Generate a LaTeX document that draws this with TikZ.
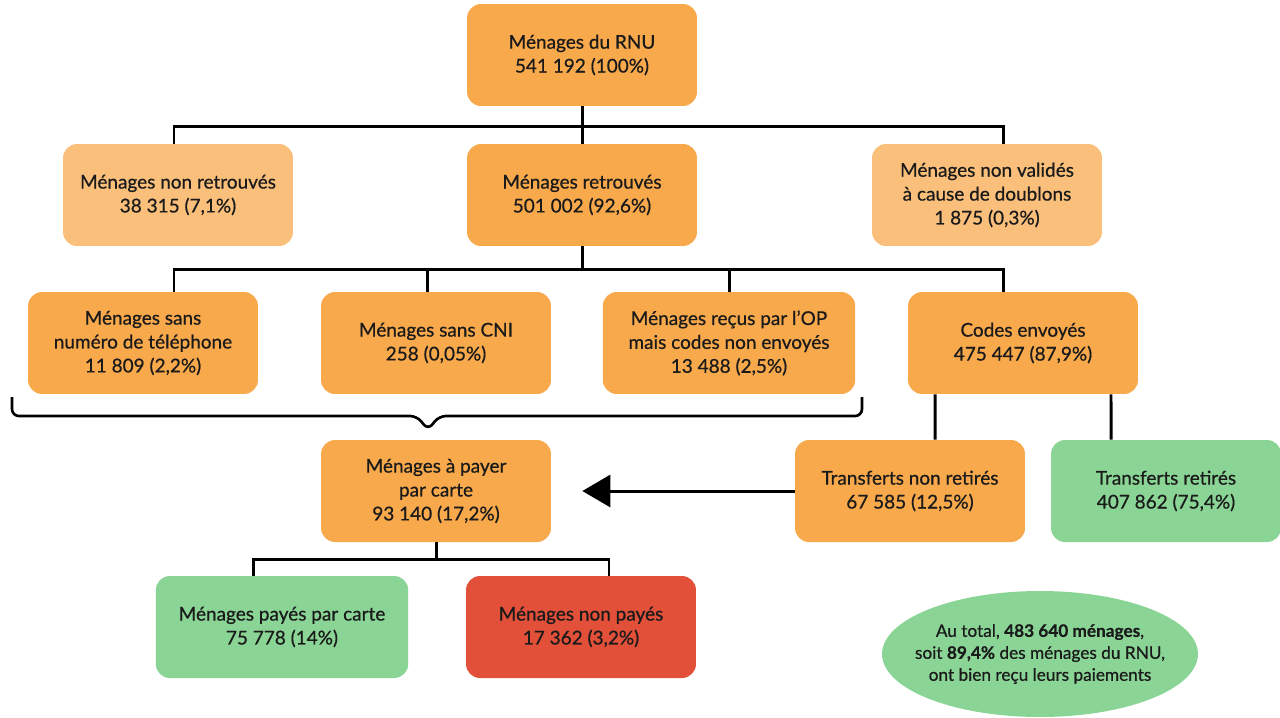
\documentclass[tikz,border=0pt]{standalone}
\usepackage{fontspec}
\setmainfont{Lato}[UprightFeatures={FakeBold=0.6},BoldFeatures={FakeBold=0.6}]
\usetikzlibrary{shapes.geometric,arrows.meta}
\definecolor{boxorange}{HTML}{F8A94C}
\definecolor{boxlight}{HTML}{FABF7A}
\definecolor{boxgreen}{HTML}{8AD596}
\definecolor{boxred}{HTML}{E2503A}
\definecolor{boxtext}{HTML}{1A1A1A}
\begin{document}
\begin{tikzpicture}[x=0.02cm,y=-0.02cm,
  box/.style={rectangle, rounded corners=0.28cm, align=center, minimum width=4.6cm, minimum height=2.04cm, text=boxtext, font=\fontsize{10.8}{13.6}\selectfont},
  wide/.style={minimum width=5.05cm},
  link/.style={line width=1.7pt}]
\useasboundingbox (0,0) rectangle (1280,717);
\node[box, fill=boxorange] (rnu) at (582,55) {Ménages du RNU\\541 192 (100\%)};
\node[box, fill=boxlight] (nonret) at (178,195) {Ménages non retrouvés\\38 315 (7,1\%)};
\node[box, fill=boxorange] (ret) at (582,195) {Ménages retrouvés\\501 002 (92,6\%)};
\node[box, fill=boxlight] (doublons) at (987,195) {Ménages non validés\\à cause de doublons\\1 875 (0,3\%)};
\node[box, fill=boxorange] (sanstel) at (143,343) {Ménages sans\\numéro de téléphone\\11 809 (2,2\%)};
\node[box, fill=boxorange] (sanscni) at (436,343) {Ménages sans CNI\\258 (0,05\%)};
\node[box, wide, fill=boxorange] (recusop) at (729,343) {Ménages reçus par l’OP\\mais codes non envoyés\\13 488 (2,5\%)};
\node[box, fill=boxorange] (codes) at (1023,343) {Codes envoyés\\475 447 (87,9\%)};
\node[box, fill=boxorange] (payer) at (436,491) {Ménages à payer\\par carte\\93 140 (17,2\%)};
\node[box, fill=boxorange] (nonretires) at (910,491) {Transferts non retirés\\67 585 (12,5\%)};
\node[box, fill=boxgreen] (retires) at (1166,491) {Transferts retirés\\407 862 (75,4\%)};
\node[box, wide, fill=boxgreen] (payes) at (282,627) {Ménages payés par carte\\75 778 (14\%)};
\node[box, fill=boxred] (nonpayes) at (581,627) {Ménages non payés\\17 362 (3,2\%)};
% total
\fill[boxgreen] (1040,654) ellipse [x radius=3.16cm, y radius=1.26cm];
\node[align=center, text=boxtext, font=\fontsize{9.8}{12.5}\selectfont] (total) at (1040,654) {Au total, \textbf{483 640 ménages},\\soit \textbf{89,4\%} des ménages du RNU,\\ont bien reçu leurs paiements};
% first level
\draw[link] (rnu.south) -- ++(0,20) -| ([xshift=-0.08cm]nonret.north);
\draw[link] (rnu.south) -- (ret.north);
\draw[link] (rnu.south) -- ++(0,20) -| ([xshift=0.32cm]doublons.north);
% second level
\draw[link] (ret.south) -- ++(0,23) -| ([xshift=0.62cm]sanstel.north);
\draw[link] (ret.south) -- ++(0,23) -| ([xshift=-0.18cm]sanscni.north);
\draw[link] (ret.south) -- ++(0,23) -| (recusop.north);
\draw[link] (ret.south) -- ++(0,23) -| ([xshift=-0.4cm]codes.north);
% brace
\draw[line width=1.5pt, rounded corners=0.14cm] (12,397) -- (12,416) -- (417,416) -- (428,430) -- (439,416) -- (862,416) -- (862,397);
% codes envoyes
\draw[link] ([xshift=-1.76cm]codes.south) -- ([xshift=0.5cm]nonretires.north);
\draw[link] ([xshift=1.76cm]codes.south) -- ([xshift=-1.1cm]retires.north);
\coordinate (arrowend) at ([xshift=0.62cm]payer.east);
\draw[link, -{Triangle[length=0.56cm,width=0.64cm]}] (nonretires.west) -- (arrowend);
% payer
\draw[link] (payer.south) -- ++(0,17) -| ([xshift=-0.58cm]payes.north);
\draw[link] (payer.south) -- ++(0,17) -| ([xshift=0.56cm]nonpayes.north);
\end{tikzpicture}
\end{document}
